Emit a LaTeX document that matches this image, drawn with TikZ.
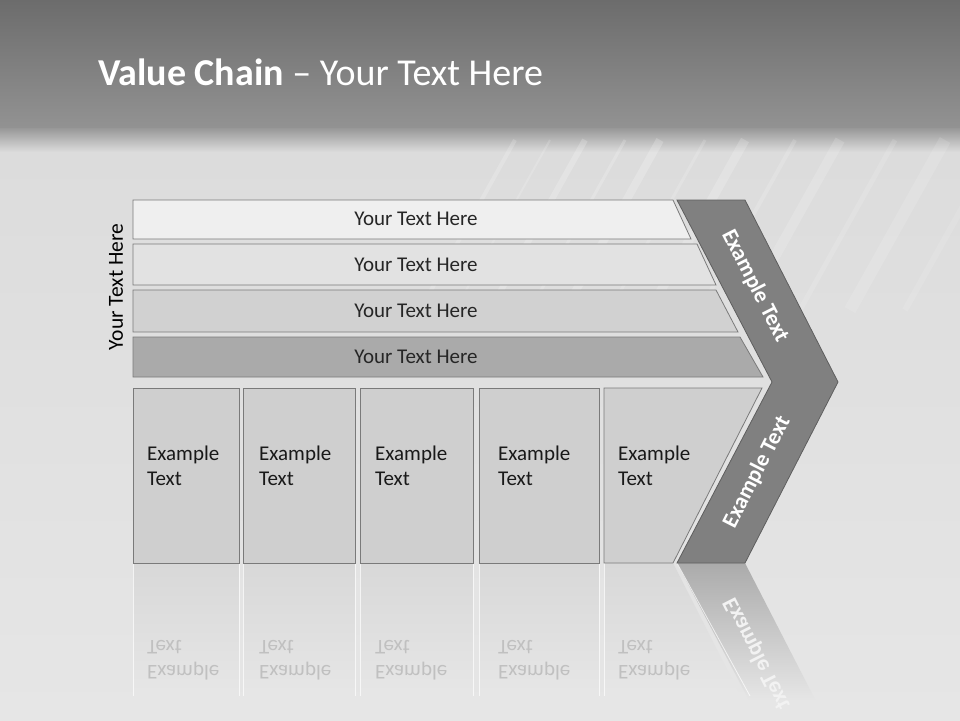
\documentclass[tikz,border=0pt]{standalone}
\usepackage{fontspec}
\setmainfont{Carlito}
\usetikzlibrary{positioning}

\definecolor{bandtop}{HTML}{6C6C6C}
\definecolor{bandlow}{HTML}{929292}
\definecolor{bglight}{HTML}{DCDCDC}
\definecolor{bgbottom}{HTML}{E6E6E6}
\definecolor{barline}{HTML}{7A7A7A}
\definecolor{barA}{HTML}{EFEFEF}
\definecolor{barB}{HTML}{E2E2E2}
\definecolor{barC}{HTML}{D1D1D1}
\definecolor{barD}{HTML}{AAAAAA}
\definecolor{cellfill}{HTML}{CFCFCF}
\definecolor{chevfill}{HTML}{808080}
\definecolor{chevline}{HTML}{5E5E5E}
\definecolor{ghosttext}{HTML}{C0C0C0}
\definecolor{ghostcell}{HTML}{D8D8D8}
\definecolor{ghostchev}{HTML}{ABABAB}

% fundidos del reflejo (el borde de arriba en 75bp, el de abajo en 25bp)
\pgfdeclareverticalshading{cellfade}{100bp}{color(0bp)=(bgbottom); color(38bp)=(bgbottom);
  color(75bp)=(ghostcell); color(100bp)=(ghostcell)}
\pgfdeclareverticalshading{chevfade}{100bp}{color(0bp)=(bgbottom); color(37bp)=(bgbottom);
  color(75bp)=(ghostchev); color(100bp)=(ghostchev)}

\tikzset{
  bar/.style={draw=barline, line width=0.8pt},
  cell/.style={draw=barline, fill=cellfill, line width=0.8pt},
  ghost/.style={shading=cellfade},
  ghostedge/.style={draw=white, line width=0.8pt, draw opacity=0.7},
  bartext/.style={font=\fontsize{21}{25}\selectfont, text=black!85},
  celltext/.style={font=\fontsize{21}{25}\selectfont, text=black!90,
    align=left, anchor=west, inner sep=0pt},
  armtext/.style={font=\bfseries\fontsize{22.5}{26}\selectfont, text=white},
}

\begin{document}
\begin{tikzpicture}[x=1pt, y=-1pt]
    \useasboundingbox (0,0) rectangle (960,720);
    % Fondo
    \fill[bgbottom] (0,0) rectangle (960,720);
    \shade[top color=bglight, bottom color=bgbottom] (0,150) rectangle (960,720);
    \shade[top color=bandlow, bottom color=bglight] (0,126) rectangle (960,152);
    \shade[top color=bandtop, bottom color=bandlow] (0,0) rectangle (960,127);
    % Rayas
    \foreach \xs/\w/\o in {420/4/0.18, 455/2/0.15, 490/6/0.2, 530/3/0.18, 565/8/0.2,
                           610/3/0.15, 650/9/0.18, 700/4/0.15, 745/10/0.15, 800/5/0.12,
                           850/12/0.12, 905/6/0.1}
        \draw[white, line width=\w, opacity=\o]
            (\xs,310) -- ++(95,-170);

    % Titulo
    \node[anchor=base west, text=white, font=\fontsize{38}{42}\selectfont, inner sep=0pt]
        (title) at (98,85) {\textbf{Value Chain} -- Your Text Here};
    \node[rotate=90, font=\fontsize{21.5}{25}\selectfont] (side) at (116,287) {Your Text Here};

    % Barras
    \draw[bar, fill=barA] (133,200) -- (673,200) -- (691,239) -- (133,239) -- cycle;
    \draw[bar, fill=barB] (133,244) -- (697,244) -- (716,285) -- (133,285) -- cycle;
    \draw[bar, fill=barC] (133,290) -- (716,290) -- (738,332) -- (133,332) -- cycle;
    \draw[bar, fill=barD] (133,337) -- (740,337) -- (763,377) -- (133,377) -- cycle;
    \node[bartext] (barA) at (416,219) {Your Text Here};
    \node[bartext] (barB) at (416,265) {Your Text Here};
    \node[bartext] (barC) at (416,311) {Your Text Here};
    \node[bartext] (barD) at (416,357) {Your Text Here};

    % Reflejo
    \begin{scope}[shift={(0,1126)}, yscale=-1]
        \clip (0,563) rectangle (960,406);
        \foreach \xa/\xb/\tx [count=\i] in {133/239/147, 243/355/259, 360/473/375, 479/599/498}{
            \shade[ghost] (\xa,388) rectangle (\xb,563);
            \draw[ghostedge] (\xa,430) -- (\xa,563) (\xb,430) -- (\xb,563);
            \node[celltext, text=ghosttext, transform shape] (ghost\i) at (\tx,466) {Example\\Text};
        }
        \shade[ghost] (604,388) -- (762,388) -- (673,563) -- (604,563) -- cycle;
        \draw[ghostedge] (604,430) -- (604,563);
        \node[celltext, text=ghosttext, transform shape] (ghost5) at (618,466) {Example\\Text};
        \shade[shading=chevfade]
            (772,382) -- (838,382) -- (745,563) -- (677,563) -- cycle;
        \draw[ghostedge] (750,430) -- (677,563);
        \node[armtext, text=white!95!black, rotate=63, transform shape] (ghostarm) at (757,472) {Example Text};
    \end{scope}

    % Celdas
    \foreach \xa/\xb/\tx [count=\i] in {133/239/147, 243/355/259, 360/473/375, 479/599/498}{
        \draw[cell] (\xa,388) rectangle (\xb,563);
        \node[celltext] (cell\i) at (\tx,466) {Example\\Text};
    }
    \draw[cell] (604,388) -- (762,388) -- (673,563) -- (604,563) -- cycle;
    \node[celltext] (cell5) at (618,466) {Example\\Text};

    % Flecha
    \draw[chevline, fill=chevfill, line width=0.8pt]
        (677,200) -- (745,200) -- (838,382) -- (745,563) -- (677,563) -- (772,382) -- cycle;
    \node[armtext, rotate=-63] (armup) at (755,286) {Example Text};
    \node[armtext, rotate=63] (armdown) at (757,472) {Example Text};
\end{tikzpicture}
\end{document}
